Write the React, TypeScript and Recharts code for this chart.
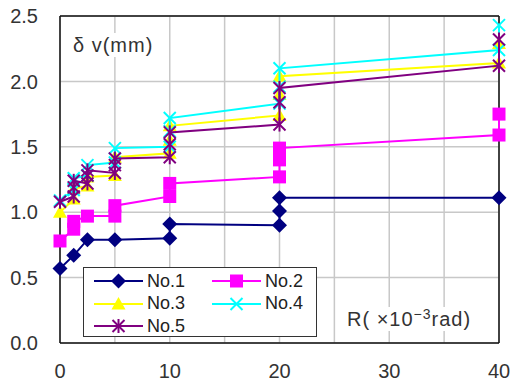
import {
  ScatterChart,
  Scatter,
  XAxis,
  YAxis,
  CartesianGrid,
  ReferenceLine,
} from "recharts";

// rotation angle R (x10^-3 rad) and vertical displacement (mm) per specimen
const no1X = [0, 1.25, 2.5, 5, 10, 10, 20, 20, 20, 40];
const no1Y = [0.57, 0.67, 0.79, 0.79, 0.8, 0.91, 0.9, 1.01, 1.11, 1.11];

const no2X = [0, 1.25, 1.25, 2.5, 5, 5, 10, 10, 20, 20, 20, 40, 40];
const no2Y = [0.78, 0.87, 0.93, 0.97, 0.97, 1.05, 1.12, 1.22, 1.27, 1.4, 1.49, 1.59, 1.75];

const no3X = [0, 1.25, 1.25, 2.5, 2.5, 5, 5, 10, 10, 10, 20, 20, 20, 40, 40];
const no3Y = [1.0, 1.1, 1.18, 1.2, 1.27, 1.28, 1.42, 1.45, 1.55, 1.66, 1.74, 1.9, 2.04, 2.14, 2.29];

const no4X = [0, 1.25, 1.25, 2.5, 2.5, 5, 5, 10, 10, 10, 20, 20, 20, 40, 40];
const no4Y = [1.09, 1.17, 1.26, 1.28, 1.36, 1.38, 1.49, 1.5, 1.62, 1.72, 1.83, 1.96, 2.1, 2.24, 2.43];

const no5X = [0, 1.25, 1.25, 1.25, 2.5, 2.5, 2.5, 5, 5, 5, 10, 10, 10, 20, 20, 20, 40, 40];
const no5Y = [1.08, 1.12, 1.19, 1.24, 1.22, 1.28, 1.32, 1.3, 1.36, 1.41, 1.42, 1.52, 1.61, 1.67, 1.84, 1.95, 2.12, 2.32];

const xTicks = [0, 5, 10, 15, 20, 25, 30, 35, 40];
const yTicks = [0, 0.5, 1, 1.5, 2, 2.5];

const FONT = "'Liberation Sans', Arial, 'Noto Sans CJK JP', sans-serif";

const toPoints = (xs: number[], ys: number[]) => xs.map((x, i) => ({ x, y: ys[i] }));

type MarkerKind = "diamond" | "square" | "triangle" | "x" | "star";

function Marker({ kind, cx, cy, color }: { kind: MarkerKind; cx: number; cy: number; color: string }) {
  if (kind === "diamond") {
    const r = 7.5;
    return <path d={`M${cx},${cy - r}L${cx + r},${cy}L${cx},${cy + r}L${cx - r},${cy}Z`} fill={color} />;
  }
  if (kind === "square") {
    return <rect x={cx - 6.5} y={cy - 6.5} width={13} height={13} fill={color} />;
  }
  if (kind === "triangle") {
    return <path d={`M${cx},${cy - 7}L${cx + 7},${cy + 5.5}L${cx - 7},${cy + 5.5}Z`} fill={color} />;
  }
  const r = 6;
  return (
    <g stroke={color} strokeWidth={2}>
      <line x1={cx - r} y1={cy - r} x2={cx + r} y2={cy + r} />
      <line x1={cx - r} y1={cy + r} x2={cx + r} y2={cy - r} />
      {kind === "star" && <line x1={cx} y1={cy - r - 1} x2={cx} y2={cy + r + 1} />}
    </g>
  );
}

const series = [
  { name: "No.1", color: "#000080", kind: "diamond" as MarkerKind, data: toPoints(no1X, no1Y) },
  { name: "No.2", color: "#ff00ff", kind: "square" as MarkerKind, data: toPoints(no2X, no2Y) },
  { name: "No.3", color: "#ffff00", kind: "triangle" as MarkerKind, data: toPoints(no3X, no3Y) },
  { name: "No.4", color: "#00ffff", kind: "x" as MarkerKind, data: toPoints(no4X, no4Y) },
  { name: "No.5", color: "#800080", kind: "star" as MarkerKind, data: toPoints(no5X, no5Y) },
];

function LegendBox() {
  return (
    <div
      style={{
        position: "absolute",
        left: 75,
        top: 263,
        width: 234,
        height: 70,
        boxSizing: "border-box",
        border: "1px solid #333",
        background: "#fff",
        display: "grid",
        gridTemplateColumns: "118px 112px",
        gridAutoRows: "22.5px",
        padding: "2px 0 0 9px",
        fontFamily: FONT,
        fontSize: 18,
        color: "#222",
      }}
    >
      {series.map((s) => (
        <div key={s.name} style={{ display: "flex", alignItems: "center" }}>
          <svg width={52} height={20}>
            <line x1={1} y1={10} x2={50} y2={10} stroke={s.color} strokeWidth={2} />
            <Marker kind={s.kind} cx={25.5} cy={10} color={s.color} />
          </svg>
          <span style={{ marginLeft: 2 }}>{s.name}</span>
        </div>
      ))}
    </div>
  );
}

export default function App() {
  return (
    <div
      style={{
        position: "relative",
        margin: "-5px 0 0 -1px",
        width: 515,
        height: 379,
        borderTop: "1px solid #d9d9d9",
        borderLeft: "1px solid #d9d9d9",
        background: "#fff",
      }}
    >
      <ScatterChart width={514} height={378} margin={{ top: 12, right: 23, bottom: 0, left: 0 }}>
        <CartesianGrid stroke="#c8c8c8" strokeWidth={1.5} />
        <XAxis
          type="number"
          dataKey="x"
          domain={[0, 40]}
          ticks={xTicks}
          tickFormatter={(v: number) => (v % 10 === 0 ? String(v) : "")}
          height={39}
          tickSize={0}
          tickMargin={21}
          axisLine={{ stroke: "#111", strokeWidth: 1.5 }}
          tick={{ fill: "#333", fontSize: 20, fontFamily: FONT }}
        />
        <YAxis
          type="number"
          dataKey="y"
          domain={[0, 2.5]}
          ticks={yTicks}
          tickFormatter={(v: number) => v.toFixed(1)}
          width={52}
          tickSize={0}
          tickMargin={22}
          axisLine={{ stroke: "#111", strokeWidth: 1.5 }}
          tick={{ fill: "#333", fontSize: 20, fontFamily: FONT }}
        />
        <ReferenceLine y={2.5} stroke="#111" strokeWidth={1.5} ifOverflow="visible" />
        <ReferenceLine x={40} stroke="#111" strokeWidth={1.5} ifOverflow="visible" />
        {series.map((s) => (
          <Scatter
            key={s.name}
            name={s.name}
            data={s.data}
            fill={s.color}
            line={{ stroke: s.color, strokeWidth: 2 }}
            lineJointType="linear"
            isAnimationActive={false}
            shape={(p: any) => <Marker kind={s.kind} cx={p.cx} cy={p.cy} color={s.color} />}
          />
        ))}
      </ScatterChart>
      <LegendBox />
      <div
        style={{
          position: "absolute",
          left: 65,
          top: 29,
          fontFamily: FONT,
          fontSize: 20,
          letterSpacing: 1,
          color: "#333",
          background: "#fff",
          lineHeight: "24px",
        }}
      >
        δ v(mm)
      </div>
      <div
        style={{
          position: "absolute",
          left: 339,
          top: 303,
          fontFamily: FONT,
          fontSize: 20,
          letterSpacing: 1,
          color: "#333",
          background: "#fff",
          lineHeight: "24px",
          whiteSpace: "nowrap",
        }}
      >
        R( ×10<sup style={{ fontSize: 14, verticalAlign: 7, lineHeight: 0 }}>−3</sup>rad)
      </div>
    </div>
  );
}
